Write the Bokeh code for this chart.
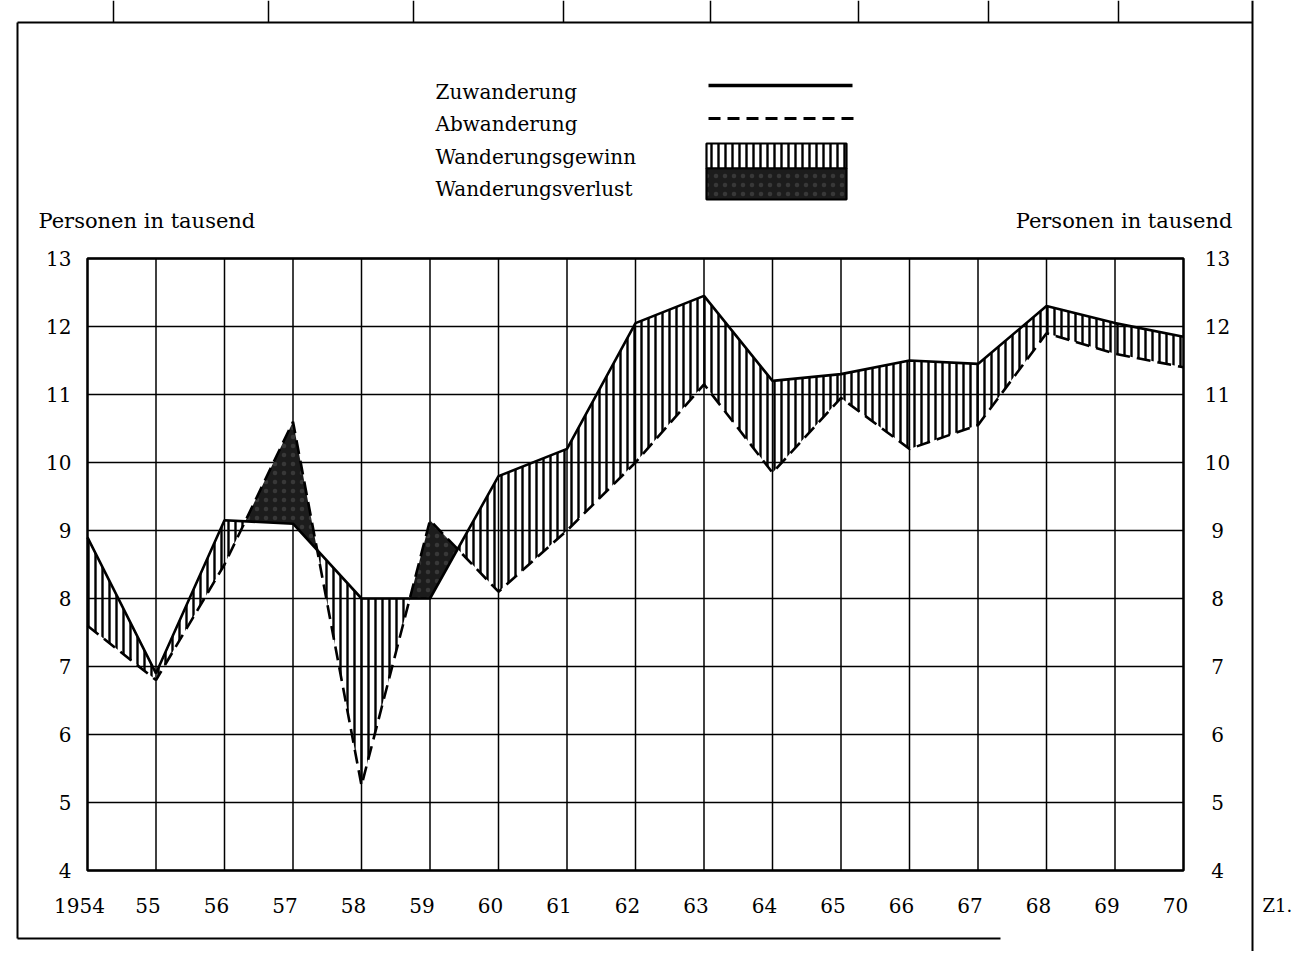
from bokeh.plotting import figure
from bokeh.models import Range1d, ColumnDataSource
from bokeh.core.properties import value
from bokeh.embed import file_html
from bokeh.resources import INLINE

# ---------------- data ----------------
years = [1954, 1955, 1956, 1957, 1958, 1959, 1960, 1961, 1962,
         1963, 1964, 1965, 1966, 1967, 1968, 1969, 1970]
x_tick_labels = ["1954", "55", "56", "57", "58", "59", "60", "61", "62",
                 "63", "64", "65", "66", "67", "68", "69", "70"]
zuwanderung = [8.9, 6.9, 9.15, 9.1, 8.0, 8.0, 9.8, 10.2, 12.05,
               12.45, 11.2, 11.3, 11.5, 11.45, 12.3, 12.05, 11.85]
abwanderung = [7.6, 6.8, 8.5, 10.6, 5.25, 9.15, 8.1, 9.0, 10.0,
               11.15, 9.85, 10.95, 10.2, 10.55, 11.9, 11.6, 11.4]
y_ticks = [4, 5, 6, 7, 8, 9, 10, 11, 12, 13]
y_tick_labels = ["4", "5", "6", "7", "8", "9", "10", "11", "12", "13"]
legend_labels = ["Zuwanderung", "Abwanderung", "Wanderungsgewinn", "Wanderungsverlust"]
axis_title = "Personen in tausend"
figure_tag = "Z1."

# ---------------- layout (page pixels) ----------------
W, H = 1296, 951
PAGE_L, PAGE_R, PAGE_T, PAGE_B = 87, 1183, 258, 870
SERIF = "DejaVu Serif"
px_per_x = (PAGE_R - PAGE_L) / (years[-1] - years[0])
px_per_y = (PAGE_B - PAGE_T) / (y_ticks[-1] - y_ticks[0])

def X(page_x):
    return years[0] + (page_x - PAGE_L) / px_per_x

def Y(page_y):
    return y_ticks[-1] - (page_y - PAGE_T) / px_per_y

p = figure(width=W, height=H,
           x_range=Range1d(X(0), X(W)), y_range=Range1d(Y(H), Y(0)),
           x_axis_location=None, y_axis_location=None,
           output_backend="svg", toolbar_location=None, min_border=0)
p.outline_line_color = None
p.background_fill_color = "white"
p.border_fill_color = "white"
p.xgrid.visible = False
p.ygrid.visible = False

x0, x1 = years[0], years[-1]
y0, y1 = y_ticks[0], y_ticks[-1]

# grid of the chart
p.segment(x0=years, y0=[y0] * len(years), x1=years, y1=[y1] * len(years),
          line_color="black", line_width=1.5)
p.segment(x0=[x0] * len(y_ticks), y0=y_ticks, x1=[x1] * len(y_ticks), y1=y_ticks,
          line_color="black", line_width=1.5)

# ---------------- fill geometry (crossings of the two lines) ----------------
def with_crossings(xs, a, b):
    XX, A, B = [], [], []
    for i in range(len(xs)):
        if i > 0:
            d0 = a[i - 1] - b[i - 1]
            d1 = a[i] - b[i]
            if d0 * d1 < 0:
                t = d0 / (d0 - d1)
                xc = xs[i - 1] + t * (xs[i] - xs[i - 1])
                vc = a[i - 1] + t * (a[i] - a[i - 1])
                XX.append(xc); A.append(vc); B.append(vc)
        XX.append(xs[i]); A.append(a[i]); B.append(b[i])
    return XX, A, B

FX, FZU, FAB = with_crossings(years, zuwanderung, abwanderung)
FTOP = [max(z, a) for z, a in zip(FZU, FAB)]
fill_src = ColumnDataSource(dict(x=FX, zu=FZU, ab=FAB, top=FTOP))

DARK = "#1c1c1c"
p.varea(x="x", y1="ab", y2="top", source=fill_src, fill_alpha=0,
        hatch_pattern="|", hatch_color="black", hatch_scale=7, hatch_weight=2.4)
p.varea(x="x", y1="zu", y2="top", source=fill_src, fill_color=DARK, fill_alpha=1,
        hatch_pattern=".", hatch_color="white", hatch_alpha=0.12,
        hatch_scale=9, hatch_weight=1)

src = ColumnDataSource(dict(year=years, zu=zuwanderung, ab=abwanderung))
p.line(x="year", y="zu", source=src, line_color="black", line_width=2.6)
p.line(x="year", y="ab", source=src, line_color="black", line_width=2.6, line_dash="14 7")

# chart border
p.quad(left=[x0], right=[x1], bottom=[y0], top=[y1], fill_alpha=0,
       line_color="black", line_width=2.4)

# ---------------- tick labels ----------------
TF = value(SERIF)
p.text(x=[x0] * len(y_ticks), y=y_ticks, text=y_tick_labels, x_offset=-16,
       text_align="right", text_baseline="middle", text_font=TF,
       text_font_size=value("20px"), text_color="black")
p.text(x=[x1] * len(y_ticks), y=y_ticks, text=y_tick_labels, x_offset=34,
       text_align="center", text_baseline="middle", text_font=TF,
       text_font_size=value("20px"), text_color="black")
p.text(x=years, y=[y0] * len(years), text=x_tick_labels, x_offset=-8, y_offset=35,
       text_align="center", text_baseline="middle", text_font=TF,
       text_font_size=value("20px"), text_color="black")

# ---------------- titles, legend, tag ----------------
def txt(s, px, py, size="20px", align="left"):
    p.text(x=[X(px)], y=[Y(py)], text=[s], text_align=align, text_baseline="middle",
           text_font=TF, text_font_size=value(size), text_color="black")

txt(axis_title, 38, 220, size="21px")
txt(axis_title, 1232, 220, size="21px", align="right")
for s, py in zip(legend_labels, [91, 123, 156, 188]):
    txt(s, 435, py)
txt(figure_tag, 1262, 905, size="18px")

p.line(x=[X(708), X(852)], y=[Y(85), Y(85)], line_color="black", line_width=3.5)
p.line(x=[X(708), X(856)], y=[Y(118), Y(118)], line_color="black", line_width=3.0,
       line_dash="12 7")
p.quad(left=[X(706)], right=[X(846)], top=[Y(143)], bottom=[Y(168)], fill_alpha=0,
       hatch_pattern="|", hatch_color="black", hatch_scale=7, hatch_weight=2.4,
       line_color="black", line_width=2.2)
p.quad(left=[X(706)], right=[X(846)], top=[Y(168)], bottom=[Y(199)],
       fill_color=DARK, hatch_pattern=".", hatch_color="white", hatch_alpha=0.12,
       hatch_scale=9, hatch_weight=1, line_color="black", line_width=2.2)

# page frame
frame_x0 = [17, 17, 17, 1252]
frame_y0 = [22, 22, 938, 0]
frame_x1 = [1252, 17, 1000, 1252]
frame_y1 = [22, 938, 938, 951]
p.segment(x0=[X(v) for v in frame_x0], y0=[Y(v) for v in frame_y0],
          x1=[X(v) for v in frame_x1], y1=[Y(v) for v in frame_y1],
          line_color="black", line_width=2.0)
top_ticks = [113, 268, 413, 563, 710, 858, 988, 1118]
p.segment(x0=[X(v) for v in top_ticks], y0=[Y(0)] * len(top_ticks),
          x1=[X(v) for v in top_ticks], y1=[Y(22)] * len(top_ticks),
          line_color="black", line_width=1.5)

open("out.html", "w").write(file_html(p, INLINE))
